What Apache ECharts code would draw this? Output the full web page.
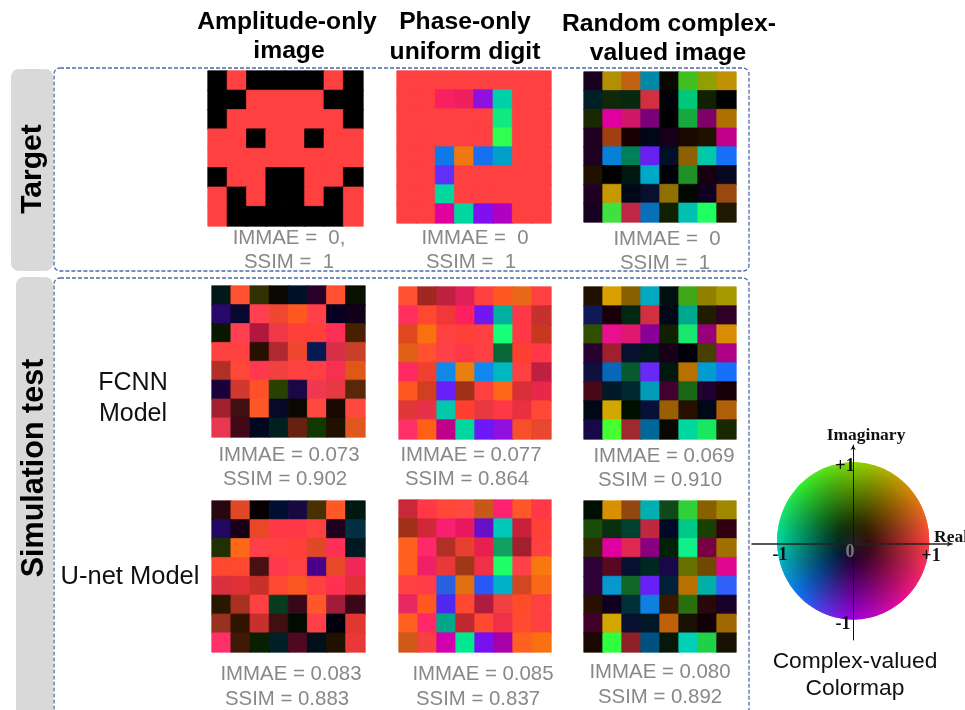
<!DOCTYPE html>
<html><head><meta charset="utf-8">
<style>html,body{margin:0;padding:0;background:#fff}#c{width:965px;height:710px}</style>
<script src="https://cdn.jsdelivr.net/npm/echarts@6/dist/echarts.min.js"></script>
</head><body><div id="c"></div>
<script>
// ---------- data: each panel is 8 rows of 8 cell colours (complex value as seen through the colormap)
const K='#000000', R='#ff4040';
const targetAmplitude=[
[K,R,K,K,K,K,R,K],[K,K,R,R,R,R,K,K],[K,R,R,R,R,R,R,K],[R,R,K,R,R,K,R,R],
[R,R,R,R,R,R,R,R],[K,R,R,K,K,R,R,K],[R,K,R,K,K,R,K,R],[R,K,K,K,K,K,K,R]];
const targetPhase=[
[R,R,R,R,R,R,R,R],
[R,R,'#f82060','#f02060','#9010e0','#00d0a8',R,R],
[R,R,R,R,R,'#10e880',R,R],
[R,R,R,R,R,'#30ff50',R,R],
[R,R,'#1078e8','#f07810','#1870f0','#00a0c8',R,R],
[R,R,'#6030f8',R,R,R,R,R],
[R,R,'#00d8a0',R,R,R,R,R],
[R,R,'#e000a0','#00d8a0','#8010f0','#b000c0',R,R]];
const targetRandom=[
['#180020','#b09000','#c06010','#0088a8','#080800','#40c020','#90a000','#c09000'],
['#002028','#102808','#082810','#d03040','#000008','#00c878','#102000','#000000'],
['#182800','#e000a0','#d01868','#780078','#000000','#18a840','#800068','#b07000'],
['#200020','#a04010','#180000','#000818','#180018','#180800','#201000','#c00088'],
['#200020','#0880d8','#008058','#6820f0','#001028','#8c6000','#00c8a8','#1870f8'],
['#201000','#000000','#001810','#00a8c8','#000008','#209028','#180010','#080820'],
['#200020','#c89800','#000818','#081030','#907000','#000800','#100020','#984810'],
['#180020','#40e040','#c02848','#0870b8','#102000','#00c0b0','#20ff60','#201800']];
const fcnnAmplitude=[
['#001818','#ff5030','#303000','#080800','#001028','#280028','#ff5030','#081000'],
['#280868','#080830','#ff4050','#f04830','#ff5820','#ff4048','#080020','#100018'],
['#081800','#ff4050','#b01840','#f03848','#ff4038','#ff4038','#ff3058','#482000'],
['#ff4040','#ff4040','#281000','#b02830','#f04830','#081850','#d83048','#c84028'],
['#b03028','#ff4838','#ff3850','#f04040','#ff4040','#ff4040','#f83050','#e05818'],
['#180038','#d03830','#ff5028','#284000','#180848','#f03850','#e83840','#582808'],
['#a02030','#401010','#ff5828','#080828','#080800','#ff4840','#180800','#ff4840'],
['#e83850','#400818','#000820','#002020','#682010','#103800','#201000','#e05820']];
const fcnnPhase=[
['#ff5030','#a02820','#c02040','#e02058','#ff4040','#ff5820','#e86818','#ff4040'],
['#ff3060','#ff4830','#f03838','#ff2060','#7018f0','#00b0a0','#ff3848','#c83030'],
['#e04820','#f87010','#ff4040','#ff4038','#ff4040','#18ff78','#ff3848','#c83820'],
['#e06018','#ff5030','#ff4048','#ff3848','#ff4040','#086838','#ff4030','#ff3848'],
['#ff2860','#f04030','#1088e8','#e88010','#1088f0','#00b8c0','#ff4040','#c02040'],
['#ff5820','#d04020','#6820f8','#a03018','#ff4040','#ff6818','#d83038','#e82848'],
['#e03838','#e83048','#00c8a8','#ff4030','#e83840','#ff3848','#e83040','#ff4838'],
['#ff3068','#ff6018','#c00088','#00d8a0','#6c18f8','#9010e0','#f85028','#e84830']];
const fcnnRandom=[
['#201000','#d8a000','#886000','#00a8c0','#001010','#40a818','#908000','#a89800'],
['#101858','#180008','#002810','#d03040','#000818','#00a890','#201c00','#300028'],
['#305000','#e81090','#e01870','#880098','#102000','#18e870','#980078','#d88c00'],
['#280030','#a02030','#081030','#001818','#180018','#000008','#484000','#b00088'],
['#101040','#0868b8','#085830','#6828f8','#001810','#b87000','#009cd0','#1870f8'],
['#480818','#001828','#002830','#009cb8','#400030','#186818','#200030','#180008'],
['#000818','#d0a800','#001000','#081038','#986000','#281000','#000818','#b06008'],
['#180848','#48ff30','#a02830','#006898','#080800','#00d8a0','#18e860','#182800']];
const unetAmplitude=[
['#280810','#e04828','#080000','#001030','#180840','#483000','#ff5828','#001810'],
['#200860','#180018','#e84828','#ff3848','#ff3848','#ff4040','#200020','#003040'],
['#203000','#ff6818','#ff4048','#ff4040','#ff4038','#e04828','#ff3058','#001820'],
['#ff4830','#ff4830','#481010','#ff3850','#ff4040','#480088','#e84828','#f02858'],
['#d83040','#e03038','#c83028','#ff4830','#f85820','#ff4040','#ff3050','#e03038'],
['#281800','#a83020','#ff4040','#083c20','#380818','#ff5828','#a01c38','#380818'],
['#983020','#301400','#c83030','#401010','#000c00','#ff4048','#000010','#e03830'],
['#ff3068','#401808','#082000','#002028','#500820','#001018','#201000','#e83838']];
const unetPhase=[
['#c82838','#ff3848','#ff4838','#ff4840','#c85818','#ff2070','#ff5828','#ff3848'],
['#a03018','#d02838','#f82070','#e81860','#6810c8','#00c8b8','#c82038','#ff4038'],
['#ff6020','#ff2868','#b03028','#e84030','#e82050','#10a060','#a02030','#ff4040'],
['#ff6020','#f02068','#e83838','#a03818','#f03048','#20ff68','#ff4048','#f87810'],
['#ff4040','#ff3c48','#2860e0','#e07010','#2858f8','#00b0c8','#d04820','#f86818'],
['#e82860','#ff5820','#5028f0','#ff4830','#b01c40','#f04040','#ff4c28','#ff4040'],
['#ff6020','#ff2868','#00a888','#c02830','#ff4830','#f03048','#ff4c30','#ff4040'],
['#d05818','#f84040','#d000b0','#00e890','#7810f0','#a800a8','#ff6020','#f87010']];
const unetRandom=[
['#001000','#d89000','#904810','#00b0b0','#104818','#30d038','#886000','#a08800'],
['#184c08','#083010','#004030','#c02840','#000828','#00c888','#184000','#300010'],
['#302800','#e000a0','#e02850','#880080','#002008','#10f088','#780040','#a07000'],
['#300038','#580820','#081030','#002820','#180848','#687000','#704800','#e00890'],
['#300038','#0898d0','#106828','#6820f8','#002038','#b87000','#00b0a8','#3060f8'],
['#281000','#100020','#003038','#1080e0','#381800','#287010','#280808','#180028'],
['#400028','#d0a800','#081030','#001828','#c06008','#181000','#100008','#a06800'],
['#180800','#30ff40','#902028','#005080','#081808','#00d0b8','#20d048','#181000']];
// colormap rim colours read around the wheel, every 45 degrees from +real, counter-clockwise
const rimAngles=[0,45,90,135,180,225,270,315,360];
const rimColors=['#ff4040','#d09000','#88d800','#30f030','#00d8a0','#1070f0','#a000e0','#e8108c','#ff4040'];
const columnTitles=[['Amplitude-only','image'],['Phase-only','uniform digit'],['Random complex-','valued image']];
const metrics=[['IMMAE =  0,','SSIM =  1'],['IMMAE =  0','SSIM =  1'],['IMMAE =  0','SSIM =  1'],
['IMMAE = 0.073','SSIM = 0.902'],['IMMAE = 0.077','SSIM = 0.864'],['IMMAE = 0.069','SSIM = 0.910'],
['IMMAE = 0.083','SSIM = 0.883'],['IMMAE = 0.085','SSIM = 0.837'],['IMMAE = 0.080','SSIM = 0.892']];
const panels=[targetAmplitude,targetPhase,targetRandom,fcnnAmplitude,fcnnPhase,fcnnRandom,unetAmplitude,unetPhase,unetRandom];

// ---------- layout
const boxes=[[208,71,155,155],[397,71,154,152],[584,72,152,150],[212,286,153,151],[399,287,152,152],[584,287,152,152],[212,501,153,151],[399,500,152,152],[584,501,152,151]];
const metricPos=[[289,238,289,262],[475,238,471,262],[667,239,665,263],[289,455,285,479],[471,455,467,479],[664,456,660,480],[291,674,287,699],[483,674,478,699],[660,672,660,697]];
const titlePos=[[287,22,289,51],[465,22,465,52],[669,24,668,53]];
const SANS='"Liberation Sans",Arial,sans-serif', SERIF='"Liberation Serif","Times New Roman",serif';
const idx=[0,1,2,3,4,5,6,7].map(String);
const txt=(x,y,t,font,fill,extra)=>Object.assign({type:'text',x,y,z:20,silent:true,style:{text:t,font,fill,textAlign:'center',textVerticalAlign:'middle'}},extra||{});

const grid=[],xAxis=[],yAxis=[],series=[];
panels.forEach((p,i)=>{
  const b=boxes[i];
  grid.push({left:b[0],top:b[1],width:b[2],height:b[3],containLabel:false});
  xAxis.push({gridIndex:i,type:'category',data:idx,show:false});
  yAxis.push({gridIndex:i,type:'category',data:idx,inverse:true,show:false});
  const d=[];
  p.forEach((row,r)=>row.forEach((c,k)=>d.push({value:[k,r,1],itemStyle:{color:c,borderColor:c,borderWidth:0.7}})));
  series.push({type:'heatmap',xAxisIndex:i,yAxisIndex:i,data:d,silent:true,progressive:0,animation:false});
});
// colour wheel
const W=panels.length;
grid.push({left:752,top:445,width:200,height:195});
xAxis.push({gridIndex:W,type:'value',min:-1.33,max:1.30,z:5,axisLine:{show:true,onZero:false,lineStyle:{color:'#222',width:1.5},symbol:['none','arrow'],symbolSize:[4,5]},offset:-96,axisTick:{show:false},axisLabel:{show:false},splitLine:{show:false}});
yAxis.push({gridIndex:W,type:'value',min:-1.26,max:1.22,z:5,axisLine:{show:true,onZero:true,lineStyle:{color:'#111',width:1},symbol:['none','arrow'],symbolSize:[4,5]},axisTick:{show:false},axisLabel:{show:false},splitLine:{show:false}});
const step=2, wedges=[];
for(let a=0;a<360;a+=step) wedges.push(a);
function rimColor(a){
  a=a%360;
  let s=0; while(s<rimAngles.length-2&&a>=rimAngles[s+1]) s++;
  const t=(a-rimAngles[s])/(rimAngles[s+1]-rimAngles[s]);
  return echarts.color.lerp(t,[rimColors[s],rimColors[s+1]]);
}
series.push({type:'custom',xAxisIndex:W,yAxisIndex:W,coordinateSystem:'cartesian2d',silent:true,animation:false,z:2,clip:false,
  data:wedges.map(a=>[a]),
  renderItem(params,api){
    const deg=api.value(0), a0=(deg-step)*Math.PI/180, a1=(deg+step)*Math.PI/180, am=deg*Math.PI/180;
    const c=api.coord([0,0]),p0=api.coord([Math.cos(a0),Math.sin(a0)]),p1=api.coord([Math.cos(a1),Math.sin(a1)]),pm=api.coord([Math.cos(am),Math.sin(am)]);
    const g=new echarts.graphic.LinearGradient(c[0],c[1],pm[0],pm[1],[{offset:0,color:'#000'},{offset:1,color:rimColor(deg)}],true);
    return {type:'polygon',shape:{points:[c,p0,pm,p1]},style:{fill:g}};
  }
});

const graphic=[
 {type:'rect',z:-1,silent:true,shape:{x:11,y:69,width:42,height:202,r:8},style:{fill:'#d9d9d9'}},
 {type:'rect',z:-1,silent:true,shape:{x:16,y:277,width:37,height:440,r:8},style:{fill:'#d9d9d9'}},
 {type:'rect',z:-1,silent:true,shape:{x:54,y:68,width:695,height:203,r:6},style:{fill:'none',stroke:'#4a6ba8',lineWidth:1.3,lineDash:[4,2]}},
 {type:'rect',z:-1,silent:true,shape:{x:54,y:278,width:695,height:440,r:6},style:{fill:'none',stroke:'#4a6ba8',lineWidth:1.3,lineDash:[4,2]}},
 txt(33,169,'Target','bold 30px '+SANS,'#000',{rotation:Math.PI/2}),
 txt(35,468,'Simulation test','bold 30.5px '+SANS,'#000',{rotation:Math.PI/2}),
 txt(133,383,'FCNN','25px '+SANS,'#111'),txt(133,414,'Model','25px '+SANS,'#111'),
 txt(130,577,'U-net Model','25.5px '+SANS,'#111'),
 txt(855,662,'Complex-valued','22.8px '+SANS,'#111'),txt(855,689,'Colormap','22.8px '+SANS,'#111'),
 txt(866,435,'Imaginary','bold 17.5px '+SERIF,'#111'),
 txt(951,537,'Real','bold 17.5px '+SERIF,'#111'),
 txt(845,466,'+1','bold 18px '+SERIF,'#111'),
 txt(780,555,'-1','bold 18px '+SERIF,'#111'),
 txt(850,552,'0','bold 18px '+SERIF,'#777'),
 txt(931,556,'+1','bold 18px '+SERIF,'#111'),
 txt(843,624,'-1','bold 18px '+SERIF,'#111')
];
columnTitles.forEach((t,i)=>{const p=titlePos[i];graphic.push(txt(p[0],p[1],t[0],'bold 24.7px '+SANS,'#000'),txt(p[2],p[3],t[1],'bold 24.7px '+SANS,'#000'));});
metrics.forEach((m,i)=>{const p=metricPos[i];graphic.push(txt(p[0],p[1],m[0],'20.4px '+SANS,'#888'),txt(p[2],p[3],m[1],'20.4px '+SANS,'#888'));});

const chart=echarts.init(document.getElementById('c'),null,{renderer:'canvas'});
chart.setOption({animation:false,backgroundColor:'#fff',tooltip:{show:false},grid,xAxis,yAxis,series,graphic});
</script></body></html>
